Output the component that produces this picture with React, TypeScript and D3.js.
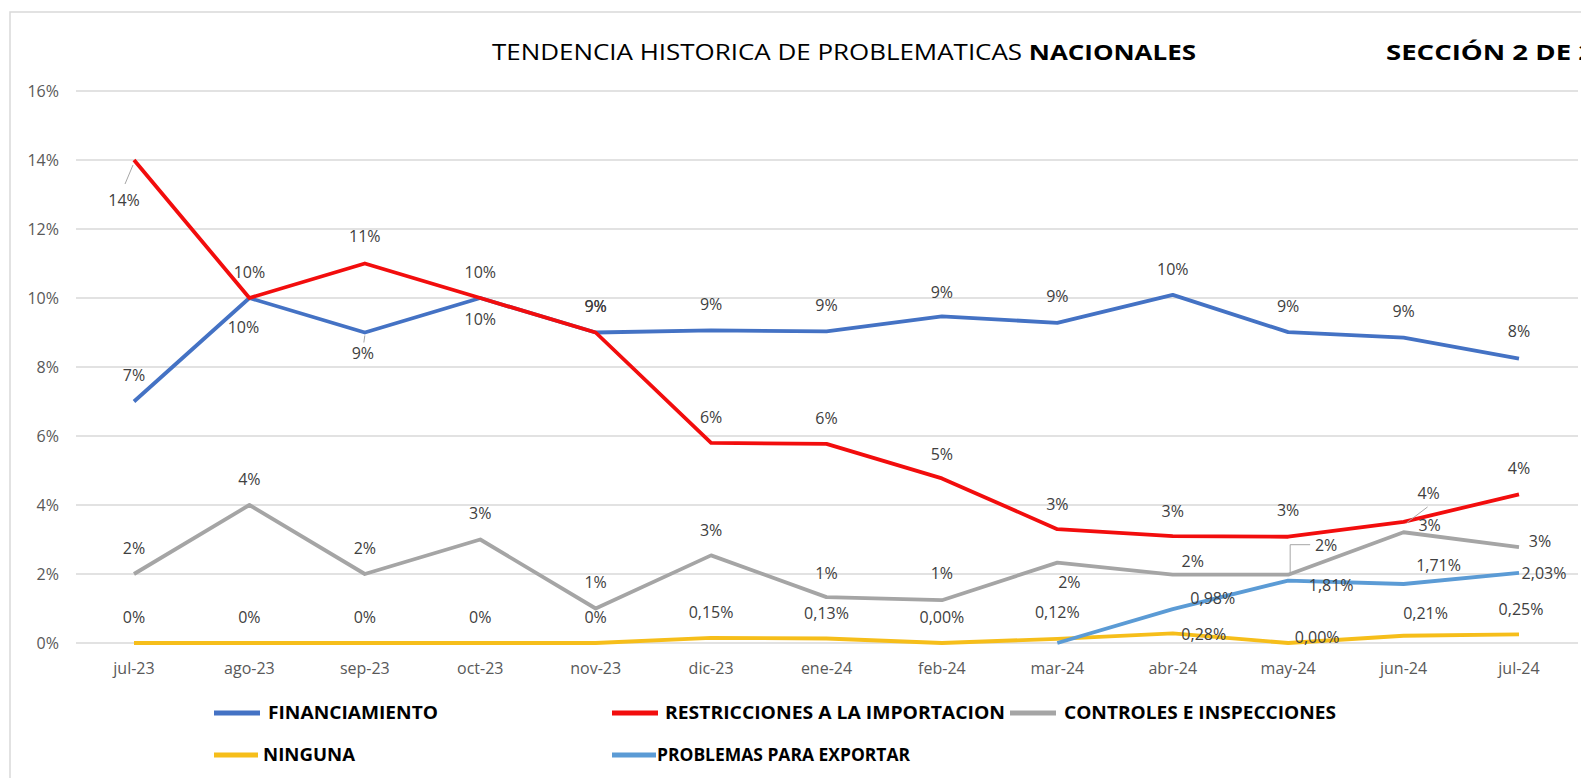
import React from "react";
import * as d3 from "d3";

const months = ["jul-23", "ago-23", "sep-23", "oct-23", "nov-23", "dic-23", "ene-24", "feb-24", "mar-24", "abr-24", "may-24", "jun-24", "jul-24"];
const yTicks = [0, 2, 4, 6, 8, 10, 12, 14, 16];

const financiamiento = [7, 10, 9, 10, 9, 9.06, 9.03, 9.47, 9.28, 10.09, 9.01, 8.85, 8.24];
const restricciones = [14, 10, 11, 10, 9, 5.8, 5.77, 4.77, 3.3, 3.1, 3.08, 3.51, 4.31];
const controles = [2, 4, 2, 3, 1, 2.54, 1.33, 1.24, 2.33, 1.98, 1.98, 3.21, 2.78];
const ninguna = [0, 0, 0, 0, 0, 0.15, 0.13, 0, 0.12, 0.28, 0, 0.21, 0.25];
const exportar: (number | null)[] = [null, null, null, null, null, null, null, null, 0, 0.98, 1.81, 1.71, 2.03];

const finLabels = ["7%", "10%", "9%", "10%", "9%", "9%", "9%", "9%", "9%", "10%", "9%", "9%", "8%"];
const resLabels = ["14%", "10%", "11%", "10%", "9%", "6%", "6%", "5%", "3%", "3%", "3%", "4%", "4%"];
const ctrlLabels = ["2%", "4%", "2%", "3%", "1%", "3%", "1%", "1%", "2%", "2%", "2%", "3%", "3%"];
const ningLabels = ["0%", "0%", "0%", "0%", "0%", "0,15%", "0,13%", "0,00%", "0,12%", "0,28%", "0,00%", "0,21%", "0,25%"];
const expLabels = ["", "", "", "", "", "", "", "", "", "0,98%", "1,81%", "1,71%", "2,03%"];

// label placement offsets [dx, dy] relative to each point
const finOff = [[0, -26], [-6, 29], [-2, 21], [0, 21], [0, -26], [0, -26], [0, -26], [0, -24], [0, -26], [0, -25], [0, -26], [0, -26], [0, -27]];
const resOff = [[-10, 40], [0, -26], [0, -27], [0, -26], [0, -26], [0, -26], [0, -26], [0, -24], [0, -25], [0, -25], [0, -26], [25, -29], [0, -26]];
const ctrlOff = [[0, -26], [0, -26], [0, -26], [0, -26], [0, -26], [0, -25], [0, -24], [0, -27], [12, 20], [20, -13], [38, -29], [26, -7], [21, -6]];
const ningOff = [[0, -26], [0, -26], [0, -26], [0, -26], [0, -26], [0, -25], [0, -25], [0, -26], [0, -26], [31, 1], [29, -6], [22, -22], [2, -25]];
const expOff = [[0, 0], [0, 0], [0, 0], [0, 0], [0, 0], [0, 0], [0, 0], [0, 0], [0, 0], [40, -11], [43, 5], [35, -19], [25, 0]];

const series = [
  { name: "FINANCIAMIENTO", values: financiamiento as (number | null)[], labels: finLabels, off: finOff, color: "#4472C4" },
  { name: "RESTRICCIONES A LA IMPORTACION", values: restricciones as (number | null)[], labels: resLabels, off: resOff, color: "#F20D0D" },
  { name: "CONTROLES E INSPECCIONES", values: controles as (number | null)[], labels: ctrlLabels, off: ctrlOff, color: "#A5A5A5" },
  { name: "NINGUNA", values: ninguna as (number | null)[], labels: ningLabels, off: ningOff, color: "#F6BE1A" },
  { name: "PROBLEMAS PARA EXPORTAR", values: exportar, labels: expLabels, off: expOff, color: "#5B9BD5" },
];

// leader lines: series index, category index, path offsets from point
const leaders = [
  { s: 1, i: 0, pts: [[-1, 5], [-9, 24]] },
  { s: 0, i: 2, pts: [[0, 3], [-1, 10]] },
  { s: 1, i: 11, pts: [[3, 1], [24, -15]] },
  { s: 2, i: 10, pts: [[2, 0], [2, -30], [22, -30]] },
];

// legend layout
const legendItems = [
  { s: 0, lx: 214, lw: 46, tx: 268, tw: 170, y: 713 },
  { s: 1, lx: 612, lw: 46, tx: 665, tw: 340, y: 713 },
  { s: 2, lx: 1010, lw: 46, tx: 1064, tw: 272, y: 713 },
  { s: 3, lx: 214, lw: 44, tx: 263, tw: 92, y: 755 },
  { s: 4, lx: 612, lw: 44, tx: 657, tw: 253, y: 755 },
];

const W = 1581;
const H = 778;
const FONT = "'Open Sans', 'Noto Sans', sans-serif";

export default function App() {
  const x = d3.scalePoint<string>().domain(months).range([134, 1519]);
  const y = d3.scaleLinear().domain([0, 16]).range([643, 91]);
  const line = d3
    .line<number | null>()
    .defined((d) => d !== null)
    .x((_, i) => x(months[i]) as number)
    .y((d) => y(d as number));

  return (
    <div style={{ position: "fixed", left: 0, top: 0 }}>
      <svg width={W} height={H} style={{ display: "block", background: "#fff" }}>
        <rect x={10} y={12} width={W + 20} height={H + 20} fill="#fff" stroke="#D9D9D9" strokeWidth={1.5} />
        {/* title */}
        <text x={492} y={60} fontFamily={FONT} fontSize={21} fill="#000" textLength={704} lengthAdjust="spacingAndGlyphs">
          <tspan>TENDENCIA HISTORICA DE PROBLEMATICAS </tspan>
          <tspan fontWeight="bold">NACIONALES</tspan>
        </text>
        <text x={1386} y={60} fontFamily={FONT} fontSize={21} fontWeight="bold" fill="#000" textLength={208} lengthAdjust="spacingAndGlyphs">
          SECCIÓN 2 DE 2
        </text>
        {/* gridlines and y labels */}
        {yTicks.map((t) => (
          <g key={t}>
            <line x1={76} x2={1578} y1={y(t)} y2={y(t)} stroke="#D9D9D9" strokeWidth={1.5} />
            <text x={59} y={y(t)} dy="0.35em" textAnchor="end" fontFamily={FONT} fontSize={16} fill="#595959">
              {t}%
            </text>
          </g>
        ))}
        {/* x labels */}
        {months.map((m) => (
          <text key={m} x={x(m)} y={668} dy="0.35em" textAnchor="middle" fontFamily={FONT} fontSize={16} fill="#595959">
            {m}
          </text>
        ))}
        {/* lines */}
        {series.map((s) => (
          <path key={s.name} d={line(s.values) || ""} fill="none" stroke={s.color} strokeWidth={3.8} strokeLinejoin="round" />
        ))}
        {/* leader lines */}
        {leaders.map((l, k) => {
          const px = x(months[l.i]) as number;
          const py = y(series[l.s].values[l.i] as number);
          const d = l.pts.map((p, j) => `${j === 0 ? "M" : "L"}${px + p[0]},${py + p[1]}`).join("");
          return <path key={k} d={d} fill="none" stroke="#A6A6A6" strokeWidth={1} />;
        })}
        {/* data labels */}
        {series.map((s) =>
          s.values.map((v, i) =>
            v === null || !s.labels[i] ? null : (
              <text
                key={s.name + i}
                x={(x(months[i]) as number) + s.off[i][0]}
                y={y(v) + s.off[i][1]}
                dy="0.35em"
                textAnchor="middle"
                fontFamily={FONT}
                fontSize={16}
                fill="#404040"
              >
                {s.labels[i]}
              </text>
            )
          )
        )}
        {/* legend */}
        {legendItems.map((it) => (
          <g key={it.s}>
            <line x1={it.lx} x2={it.lx + it.lw} y1={it.y} y2={it.y} stroke={series[it.s].color} strokeWidth={5} />
            <text
              x={it.tx}
              y={it.y}
              dy="0.36em"
              fontFamily={FONT}
              fontSize={18}
              fontWeight="bold"
              fill="#000"
              textLength={it.tw}
              lengthAdjust="spacingAndGlyphs"
            >
              {series[it.s].name}
            </text>
          </g>
        ))}
      </svg>
    </div>
  );
}
